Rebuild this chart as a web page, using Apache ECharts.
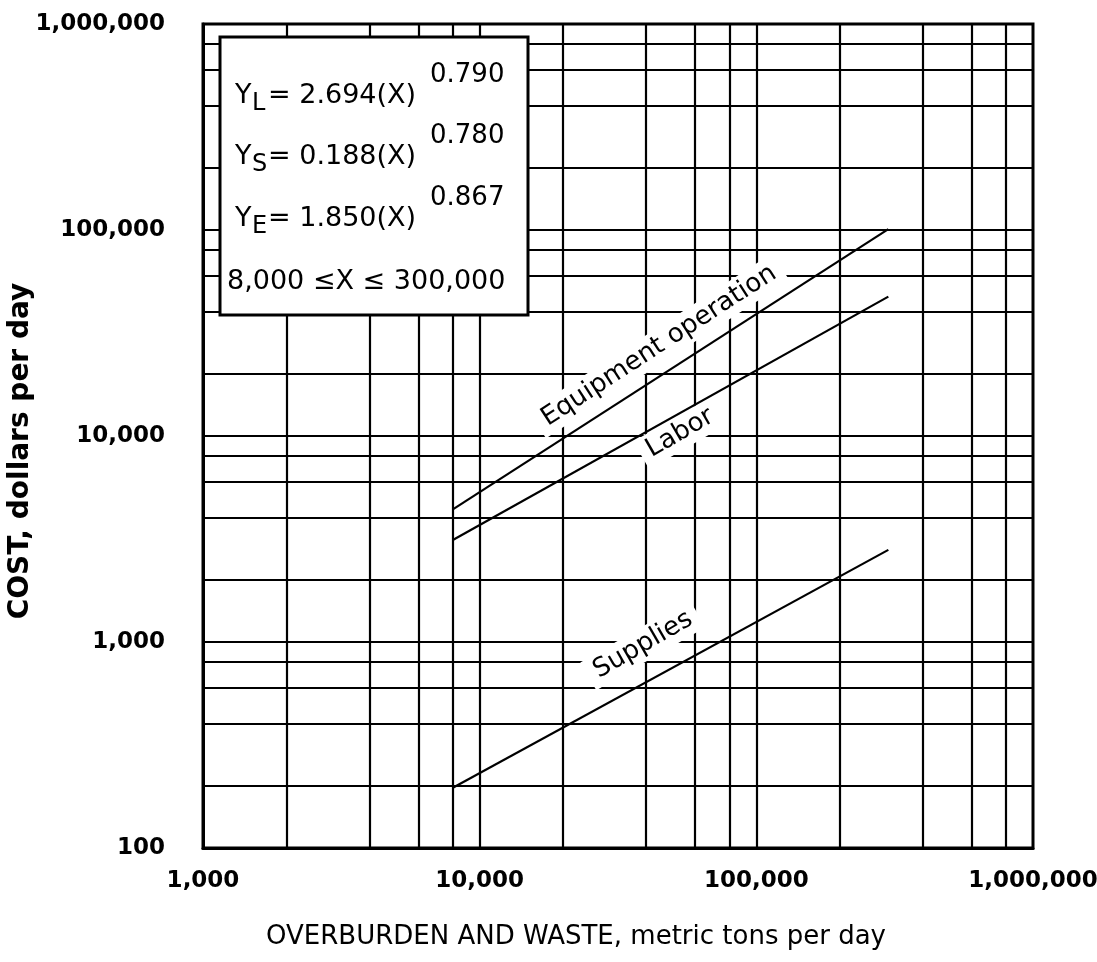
<!DOCTYPE html>
<html><head><meta charset="utf-8">
<script src="https://cdn.jsdelivr.net/npm/echarts@6/dist/echarts.min.js"></script>
<style>html,body{margin:0;padding:0;background:#fff}#c{width:1097px;height:962px}</style>
</head><body><div id="c"></div>
<script>
// Values
const xEnds = [8000, 300000];
const equipmentCost = [4400, 101000];
const laborCost = [3130, 47500];
const suppliesCost = [196, 2800];
const xGridValues = [2000, 4000, 6000, 8000, 10000, 20000, 40000, 60000, 80000, 100000, 200000, 400000, 600000, 800000];
const yGridValues = [200, 400, 600, 800, 1000, 2000, 4000, 6000, 8000, 10000, 20000, 40000, 60000, 80000, 100000, 200000, 400000, 600000, 800000];
const lineLabels = ['Equipment operation', 'Labor', 'Supplies'];
const lineLabelX = [44500, 53000, 38900];
const lineLabelY = [27400, 10340, 968];
const lineLabelAngle = [33, 30, 30];
const eqMain = ['= 2.694(X)', '= 0.188(X)', '= 1.850(X)'];
const eqSub = ['L', 'S', 'E'];
const eqExp = ['0.790', '0.780', '0.867'];
const eqRange = '8,000 \u2264X \u2264 300,000';

const FONT = 'DejaVu Sans';
const fmt = v => Math.round(v).toLocaleString('en-US');
const chart = echarts.init(document.getElementById('c'));

const eqGraphics = [{
  type: 'rect', z: 100,
  shape: { x: 220, y: 37, width: 308, height: 278 },
  style: { fill: '#fff', stroke: '#000', lineWidth: 3 }
}];
const rowY = [96, 157, 219];
rowY.forEach((cy, i) => {
  eqGraphics.push({ type: 'text', z: 101, x: 235, y: cy, style: { text: 'Y', font: '27px "' + FONT + '"', fill: '#000', textAlign: 'left', textVerticalAlign: 'middle' } });
  eqGraphics.push({ type: 'text', z: 101, x: 252, y: cy + 8, style: { text: eqSub[i], font: '24px "' + FONT + '"', fill: '#000', textAlign: 'left', textVerticalAlign: 'middle' } });
  eqGraphics.push({ type: 'text', z: 101, x: 268, y: cy, style: { text: eqMain[i], font: '27px "' + FONT + '"', fill: '#000', textAlign: 'left', textVerticalAlign: 'middle' } });
  eqGraphics.push({ type: 'text', z: 101, x: 430, y: cy - 21, style: { text: eqExp[i], font: '26px "' + FONT + '"', fill: '#000', textAlign: 'left', textVerticalAlign: 'middle' } });
});
eqGraphics.push({ type: 'text', z: 101, x: 227, y: 282, style: { text: eqRange, font: '27px "' + FONT + '"', fill: '#000', textAlign: 'left', textVerticalAlign: 'middle' } });

const lineStyle = { color: '#000', width: 2.2 };
chart.setOption({
  animation: false,
  grid: { left: 203, right: 64, top: 24, bottom: 114, show: true, borderColor: '#000', borderWidth: 3, outerBoundsMode: 'none', containLabel: false },
  xAxis: {
    type: 'log', logBase: 10, min: 1000, max: 1000000,
    name: 'OVERBURDEN AND WASTE, metric tons per day', nameLocation: 'middle', nameGap: 76,
    nameTextStyle: { fontFamily: FONT, fontSize: 26, color: '#000', padding: [0, 84, 0, 0] },
    axisLine: { show: true, lineStyle: { color: '#000', width: 3 } },
    axisTick: { show: false }, splitLine: { show: false }, minorSplitLine: { show: false },
    axisLabel: { formatter: fmt, margin: 22, fontFamily: FONT, fontWeight: 'bold', fontSize: 23, color: '#000', showMinLabel: true, showMaxLabel: true }
  },
  yAxis: {
    type: 'log', logBase: 10, min: 100, max: 1000000,
    name: 'COST, dollars per day', nameLocation: 'middle', nameGap: 168, nameMoveOverlap: false,
    nameTextStyle: { fontFamily: FONT, fontWeight: 'bold', fontSize: 28, color: '#000', padding: [0, 30, 0, 0] },
    axisLine: { show: true, lineStyle: { color: '#000', width: 3 } },
    axisTick: { show: false }, splitLine: { show: false }, minorSplitLine: { show: false },
    axisLabel: { formatter: fmt, margin: 38, fontFamily: FONT, fontWeight: 'bold', fontSize: 23, color: '#000', showMinLabel: true, showMaxLabel: true }
  },
  graphic: eqGraphics,
  series: [
    {
      type: 'line', data: [], z: 1, silent: true,
      markLine: {
        z: 1, silent: true, symbol: ['none', 'none'], label: { show: false },
        lineStyle: { color: '#000', width: 2.2, type: 'solid' },
        emphasis: { disabled: true },
        data: xGridValues.map(v => ({ xAxis: v })).concat(yGridValues.map(v => ({ yAxis: v })))
      }
    },
    {
      type: 'scatter', z: 2, symbolSize: 0, silent: true,
      itemStyle: { opacity: 1, color: '#000' },
      data: lineLabels.map((n, i) => ({ name: n, value: [lineLabelX[i], lineLabelY[i]], label: { rotate: lineLabelAngle[i] } })),
      label: { show: true, position: 'inside', formatter: '{b}', fontFamily: FONT, fontSize: 26, color: '#000', opacity: 1, textBorderWidth: 0, backgroundColor: '#fff', padding: [3, 8] }
    },
    { name: 'Equipment operation', type: 'line', z: 3, symbol: 'none', lineStyle, data: xEnds.map((x, i) => [x, equipmentCost[i]]) },
    { name: 'Labor', type: 'line', z: 3, symbol: 'none', lineStyle, data: xEnds.map((x, i) => [x, laborCost[i]]) },
    { name: 'Supplies', type: 'line', z: 3, symbol: 'none', lineStyle, data: xEnds.map((x, i) => [x, suppliesCost[i]]) }
  ]
});
</script></body></html>
